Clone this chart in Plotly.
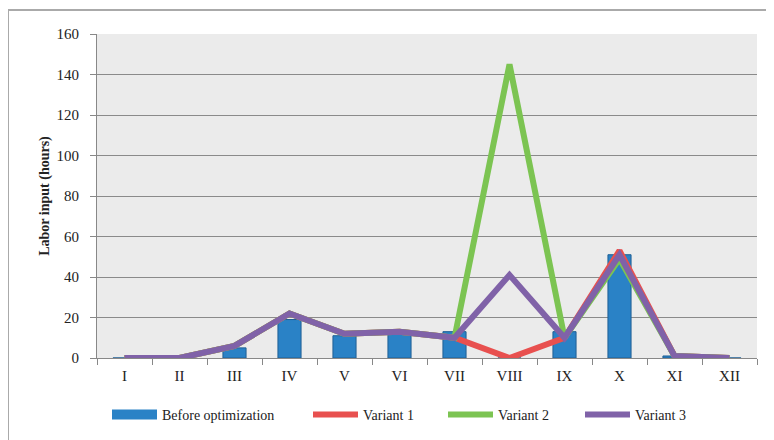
import plotly.graph_objects as go

months = ["I", "II", "III", "IV", "V", "VI", "VII", "VIII", "IX", "X", "XI", "XII"]
before = [0, 0, 5, 19, 11, 12, 13, 0, 13, 51, 1, 0]
variant1 = [0, 0, 6, 22, 12, 13, 10, 0, 10, 53, 1, 0]
variant2 = [0, 0, 6, 22, 12, 13, 10, 145, 10, 49, 1, 0]
variant3 = [0, 0, 6, 22, 12, 13, 10, 41, 10, 51, 1, 0]
y_ticks = [0, 20, 40, 60, 80, 100, 120, 140, 160]

# page body has an 8px margin; figure coordinates below account for it
W, H = 774, 440
L, R, T, B = 89, 25, 26, 90
pw, ph = W - L - R, H - T - B

serif = "'Liberation Serif', 'Times New Roman', 'DejaVu Serif', serif"
blue = "#2a82c6"


def px_x(px):
    return (px - L) / pw


def px_y(py):
    return (T + ph - py) / ph


fig = go.Figure()
fig.add_trace(go.Bar(x=months, y=before, name="Before optimization", showlegend=False,
                     marker=dict(color=blue, line=dict(color="#1f5f94", width=1)),
                     width=0.42))
# legend proxy for bar series (wide rectangle symbol as in reference)
fig.add_trace(go.Scatter(x=[None], y=[None], name="Before optimization", mode="lines",
                         line=dict(color=blue, width=11), legend="legend"))
fig.add_trace(go.Scatter(x=months, y=variant1, name="Variant 1", mode="lines",
                         line=dict(color="#e8504f", width=6), legend="legend2"))
fig.add_trace(go.Scatter(x=months, y=variant2, name="Variant 2", mode="lines",
                         line=dict(color="#7cc452", width=6), legend="legend3"))
fig.add_trace(go.Scatter(x=months, y=variant3, name="Variant 3", mode="lines",
                         line=dict(color="#8062a8", width=6), legend="legend4"))

# outer frame
fig.add_shape(type="rect", xref="paper", yref="paper",
              x0=px_x(0), x1=px_x(W + 10),
              y0=px_y(H + 10), y1=px_y(2),
              line=dict(color="#aaaaaa", width=2), fillcolor="rgba(0,0,0,0)", layer="below")

leg_common = dict(orientation="h", xanchor="left", yanchor="top", y=px_y(391),
                  font=dict(family=serif, size=14, color="#222"),
                  itemwidth=45, bgcolor="rgba(0,0,0,0)")
leg_x = [99, 300, 435, 572]

fig.update_layout(
    width=W, height=H,
    margin=dict(l=L, r=R, t=T, b=B, autoexpand=False),
    paper_bgcolor="white",
    plot_bgcolor="#ebebeb",
    font=dict(family=serif, size=14, color="#222"),
    showlegend=True,
    legend=dict(x=px_x(leg_x[0]), **leg_common),
    legend2=dict(x=px_x(leg_x[1]), **leg_common),
    legend3=dict(x=px_x(leg_x[2]), **leg_common),
    legend4=dict(x=px_x(leg_x[3]), **leg_common),
    bargap=0.5,
)
fig.update_xaxes(type="category", showgrid=False, showline=True, linecolor="#888", linewidth=1,
                 ticks="outside", tickson="boundaries", ticklen=6, tickcolor="#888",
                 ticklabelstandoff=4,
                 tickfont=dict(family=serif, size=15, color="#222"))
fig.update_yaxes(range=[0, 160], tickvals=y_ticks, showgrid=True, gridcolor="#8a8a8a", gridwidth=1,
                 showline=True, linecolor="#888", linewidth=1, zeroline=False,
                 ticks="outside", ticklen=6, tickcolor="#888", ticklabelstandoff=8,
                 tickfont=dict(family=serif, size=15, color="#222"),
                 title=dict(text="<b>Labor input (hours)</b>", font=dict(family=serif, size=14, color="#222"),
                            standoff=3))

fig.write_html("out.html")
